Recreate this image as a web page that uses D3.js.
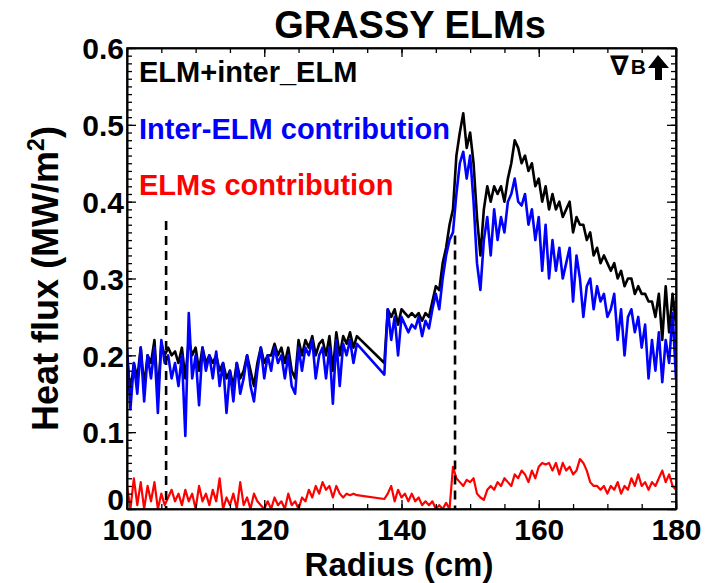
<!DOCTYPE html>
<html>
<head>
<meta charset="utf-8">
<script src="https://cdn.jsdelivr.net/npm/d3@7"></script>
<style>
    body { margin: 0; background: #fff; }
    svg text { font-family: "Liberation Sans", Arial, Helvetica, sans-serif; font-weight: bold; fill: #000; }
    .axis path { stroke: #000; stroke-width: 1.6; }
    .axis line { stroke: #000; stroke-width: 1.3; }
    .series { fill: none; stroke-linejoin: round; }
</style>
</head>
<body>
<svg class="chart" width="726" height="583"></svg>
<script>
const radius = [
    100.0,100.5,101.0,101.5,102.0,102.5,103.0,103.5,104.0,104.5,
    105.0,105.5,106.0,106.5,107.0,107.5,108.0,108.5,109.0,109.5,
    110.0,110.5,111.0,111.5,112.0,112.5,113.0,113.5,114.0,114.5,
    115.0,115.5,116.0,116.5,117.0,117.5,118.0,118.5,119.0,119.5,
    120.0,120.5,121.0,121.5,122.0,122.5,123.0,123.5,124.0,124.5,
    125.0,125.5,126.0,126.5,127.0,127.5,128.0,128.5,129.0,129.5,
    130.0,130.5,131.0,131.5,132.0,132.5,133.0,133.5,
    137.5,138.0,138.5,139.0,139.5,140.0,140.5,141.0,141.5,142.0,
    142.5,143.0,143.5,144.0,144.5,145.0,145.5,146.0,146.5,147.0,
    147.5,148.0,148.5,149.0,149.5,150.0,150.5,151.0,151.5,152.0,
    152.5,153.0,153.5,154.0,154.5,155.0,155.5,156.0,156.5,157.0,
    157.5,158.0,158.5,159.0,159.5,160.0,160.5,161.0,161.5,162.0,
    162.5,163.0,163.5,164.0,164.5,165.0,165.5,166.0,166.5,167.0,
    167.5,168.0,168.5,169.0,169.5,170.0,170.5,171.0,171.5,172.0,
    172.5,173.0,173.5,174.0,174.5,175.0,175.5,176.0,176.5,177.0,
    177.5,178.0,178.5,179.0,179.5,180.0
];

// ELM + inter-ELM (total)
const totalFlux = [
    0.20,0.15,0.19,0.17,0.21,0.16,0.20,0.19,0.22,0.15,
    0.215,0.20,0.21,0.20,0.205,0.19,0.21,0.17,0.22,0.20,
    0.21,0.18,0.21,0.19,0.20,0.19,0.20,0.18,0.19,0.17,
    0.18,0.16,0.19,0.17,0.18,0.20,0.18,0.16,0.19,0.21,
    0.19,0.20,0.20,0.215,0.20,0.21,0.19,0.21,0.18,0.17,
    0.22,0.20,0.22,0.21,0.225,0.20,0.215,0.22,0.20,0.225,
    0.18,0.23,0.20,0.225,0.215,0.23,0.21,0.225,
    0.19,0.26,0.25,0.26,0.24,0.26,0.255,0.25,0.255,0.25,
    0.255,0.245,0.255,0.25,0.27,0.29,0.285,0.32,0.34,0.37,
    0.39,0.46,0.49,0.515,0.47,0.49,0.45,0.38,0.33,0.39,
    0.42,0.40,0.42,0.41,0.42,0.40,0.43,0.45,0.48,0.47,
    0.45,0.46,0.44,0.45,0.42,0.43,0.40,0.42,0.39,0.41,
    0.39,0.40,0.38,0.39,0.40,0.36,0.38,0.37,0.37,0.35,
    0.36,0.33,0.34,0.32,0.33,0.32,0.31,0.32,0.30,0.31,
    0.29,0.30,0.30,0.28,0.29,0.28,0.28,0.27,0.27,0.25,
    0.28,0.22,0.29,0.23,0.28,0.24
];

// inter-ELM contribution
const interElmFlux = [
    0.21,0.13,0.19,0.15,0.21,0.14,0.20,0.17,0.21,0.125,
    0.22,0.19,0.20,0.17,0.19,0.16,0.20,0.095,0.255,0.17,
    0.20,0.135,0.21,0.18,0.20,0.17,0.205,0.16,0.19,0.125,
    0.18,0.14,0.19,0.15,0.17,0.20,0.16,0.14,0.18,0.21,
    0.17,0.20,0.18,0.21,0.19,0.20,0.17,0.20,0.16,0.15,
    0.21,0.18,0.21,0.20,0.22,0.17,0.20,0.21,0.17,0.21,
    0.137,0.22,0.16,0.215,0.20,0.22,0.19,0.215,
    0.175,0.26,0.22,0.25,0.20,0.25,0.24,0.23,0.24,0.235,
    0.25,0.225,0.245,0.235,0.26,0.28,0.26,0.30,0.33,0.35,
    0.36,0.41,0.45,0.465,0.43,0.46,0.40,0.32,0.285,0.35,
    0.38,0.33,0.39,0.35,0.38,0.36,0.40,0.41,0.43,0.40,
    0.395,0.41,0.37,0.39,0.35,0.38,0.31,0.37,0.30,0.35,
    0.31,0.34,0.30,0.32,0.34,0.27,0.33,0.30,0.25,0.29,
    0.30,0.26,0.29,0.27,0.28,0.25,0.26,0.28,0.22,0.26,
    0.20,0.25,0.26,0.23,0.25,0.21,0.24,0.17,0.22,0.18,
    0.23,0.165,0.22,0.19,0.255,0.17
];

// ELMs contribution
const elmFlux = [
    0.03,0.0,0.04,0.005,0.035,0.0,0.03,0.01,0.035,0.0,
    0.02,0.005,0.015,0.025,0.01,0.02,0.005,0.025,0.01,0.02,
    0.0,0.03,0.01,0.02,0.005,0.025,0.01,0.04,0.0,0.015,
    0.005,0.02,0.0,0.035,0.005,0.015,0.0,0.02,0.01,0.005,
    0.0,0.01,0.0,0.015,0.005,0.01,0.0,0.02,0.005,0.01,
    0.0,0.015,0.01,0.025,0.015,0.03,0.02,0.035,0.025,0.03,
    0.015,0.03,0.02,0.015,0.02,0.018,0.02,0.018,
    0.013,0.02,0.03,0.01,0.025,0.015,0.02,0.01,0.02,0.01,
    0.015,0.005,0.01,0.005,0.01,0.0,0.005,0.0,0.008,0.0,
    0.055,0.04,0.035,0.03,0.038,0.035,0.04,0.02,0.015,0.012,
    0.025,0.03,0.025,0.035,0.03,0.04,0.035,0.03,0.045,0.04,
    0.05,0.045,0.035,0.05,0.04,0.055,0.06,0.058,0.06,0.05,
    0.06,0.045,0.06,0.05,0.055,0.045,0.05,0.065,0.06,0.05,
    0.035,0.03,0.03,0.025,0.03,0.02,0.03,0.025,0.035,0.02,
    0.03,0.025,0.04,0.03,0.045,0.03,0.035,0.025,0.035,0.03,
    0.04,0.05,0.035,0.045,0.03,0.025
];

const seriesColors = ["#000000", "#0000ff", "#ff0000"];
const legendLabels = ["ELM+inter_ELM", "Inter-ELM contribution", "ELMs contribution"];

// vertical dashed markers (radius, top of line in MW/m2)
const markerRadius = [105.7, 147.8];
const markerTop = [0.375, 0.356];

const xTicks = [100, 120, 140, 160, 180];
const yTicks = [0, 0.1, 0.2, 0.3, 0.4, 0.5, 0.6];

const WIDTH = 726;
const HEIGHT = 583;
const MARGIN = {top: 48, right: 50, bottom: 74, left: 127};
const MAJOR_TICK = 9;
const MINOR_TICK = 5;

const svg = d3.select("svg.chart");
const innerW = WIDTH - MARGIN.left - MARGIN.right;
const innerH = HEIGHT - MARGIN.top - MARGIN.bottom;

const x = d3.scaleLinear().domain([100, 180]).range([MARGIN.left, MARGIN.left + innerW]);
const y = d3.scaleLinear().domain([0, 0.6]).range([MARGIN.top + innerH, MARGIN.top]);

svg.append("clipPath").attr("id", "plot-clip")
    .append("rect")
    .attr("x", MARGIN.left).attr("y", MARGIN.top)
    .attr("width", innerW).attr("height", innerH);

const plot = svg.append("g").attr("clip-path", "url(#plot-clip)");

const line = values => d3.line()
    .x((d, i) => x(radius[i]))
    .y(d => y(d))(values);

[totalFlux, interElmFlux, elmFlux].forEach((values, i) => {
    plot.append("path")
        .attr("class", "series")
        .attr("d", line(values))
        .attr("stroke", seriesColors[i])
        .attr("stroke-width", i === 2 ? 2.2 : 2.6);
});

plot.selectAll("line.marker")
    .data(markerRadius)
    .enter().append("line")
    .attr("class", "marker")
    .attr("x1", d => x(d)).attr("x2", d => x(d))
    .attr("y1", (d, i) => y(markerTop[i]))
    .attr("y2", y(0))
    .attr("stroke", "#000")
    .attr("stroke-width", 2.6)
    .attr("stroke-dasharray", "9,6");

// axes: ticks point inward on every side, minor ticks every 5 cm and 0.01
const xMinor = d3.range(100, 180.1, 5);
const yMinor = d3.range(0, 61).map(d => d / 100);

const addAxis = (axisFn, scale, transform, values, size, labels) => {
    const axis = axisFn(scale)
        .tickValues(values)
        .tickSizeInner(-size)
        .tickSizeOuter(0)
        .tickPadding(8);
    if (!labels) axis.tickFormat("");
    else axis.tickFormat(labels);
    return svg.append("g").attr("class", "axis").attr("transform", transform).call(axis);
};

const atBottom = `translate(0,${MARGIN.top + innerH})`;
const atTop = `translate(0,${MARGIN.top})`;
const atLeft = `translate(${MARGIN.left},0)`;
const atRight = `translate(${MARGIN.left + innerW},0)`;

addAxis(d3.axisBottom, x, atBottom, xMinor, MINOR_TICK);
addAxis(d3.axisTop, x, atTop, xMinor, MINOR_TICK);
addAxis(d3.axisLeft, y, atLeft, yMinor, MINOR_TICK);
addAxis(d3.axisRight, y, atRight, yMinor, MINOR_TICK);

const xAxis = addAxis(d3.axisBottom, x, atBottom, xTicks, MAJOR_TICK, d => d);
addAxis(d3.axisTop, x, atTop, xTicks, MAJOR_TICK);
const yAxis = addAxis(d3.axisLeft, y, atLeft, yTicks, MAJOR_TICK, d => d === 0 ? "0" : d.toFixed(1));
addAxis(d3.axisRight, y, atRight, yTicks, MAJOR_TICK);

xAxis.selectAll("text").attr("font-size", 30).attr("dy", "0.85em").attr("y", 5);
yAxis.selectAll("text").attr("font-size", 30).attr("x", -3).attr("dy", "0.36em");
yAxis.selectAll("text").filter(d => d === 0).attr("dy", "0.0em");

// frame
svg.append("rect")
    .attr("x", MARGIN.left).attr("y", MARGIN.top)
    .attr("width", innerW).attr("height", innerH)
    .attr("fill", "none").attr("stroke", "#000").attr("stroke-width", 1.6);

// titles
svg.append("text")
    .attr("x", 410).attr("y", 38)
    .attr("text-anchor", "middle")
    .attr("font-size", 38)
    .text("GRASSY ELMs");

svg.append("text")
    .attr("x", 399).attr("y", 576)
    .attr("text-anchor", "middle")
    .attr("font-size", 33)
    .text("Radius (cm)");

const yTitle = svg.append("text")
    .attr("transform", `translate(58,${MARGIN.top + innerH / 2}) rotate(-90)`)
    .attr("text-anchor", "middle")
    .attr("font-size", 36);
yTitle.append("tspan").text("Heat flux (MW/m");
yTitle.append("tspan").attr("font-size", 23).attr("dy", -14).text("2");
yTitle.append("tspan").attr("dy", 14).text(")");

// legend
svg.selectAll("text.legend")
    .data(legendLabels)
    .enter().append("text")
    .attr("class", "legend")
    .attr("x", 139)
    .attr("y", (d, i) => 82 + i * 56.5)
    .attr("font-size", 29)
    .style("fill", (d, i) => seriesColors[i])
    .text(d => d);

// grad-B direction marker
const gradB = svg.append("text")
    .attr("x", 610).attr("y", 75);
gradB.append("tspan").attr("font-size", 27).style("font-family", "DejaVu Sans").text("∇");
gradB.append("tspan").attr("font-size", 21).attr("dx", 2).attr("dy", -1).text("B");
svg.append("path")
    .attr("d", "M658,55 L669,68 L662,68 L662,80 L655,80 L655,68 L648,68 Z")
    .attr("fill", "#000");
</script>
</body>
</html>
